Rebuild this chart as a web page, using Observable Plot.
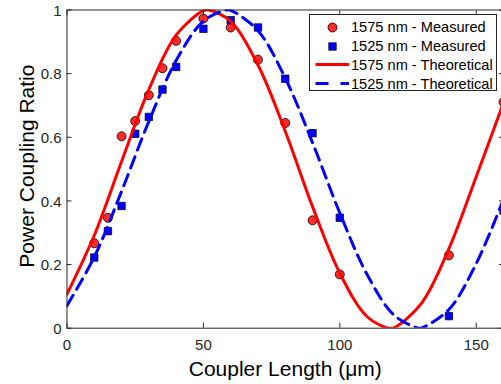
<!DOCTYPE html>
<html><head><meta charset="utf-8">
<script src="https://cdn.jsdelivr.net/npm/d3@7"></script>
<script src="https://cdn.jsdelivr.net/npm/@observablehq/plot@0.6"></script>
<style>
html,body{margin:0;padding:0;overflow:hidden;background:#fff;}
#wrap{position:relative;width:501px;height:384px;overflow:hidden;}
#wrap svg{display:block;}
#legend{position:absolute;left:309px;top:14px;width:188px;height:77px;border:1px solid #262626;background:#fff;font-family:"Liberation Sans",Arial,sans-serif;font-size:14.6px;color:#000;box-sizing:border-box;}
.row{position:absolute;left:0;height:19px;display:flex;align-items:center;white-space:nowrap;}
.row svg{flex:none;}
.row span{margin-left:2px;}
</style></head><body><div id="wrap"><div id="legend"></div></div>
<script>
const xTicks = [0, 50, 100, 150];
const yTicks = [0, 0.2, 0.4, 0.6, 0.8, 1];
const yTickLabels = ["0", "0.2", "0.4", "0.6", "0.8", "1"];
const xLabel = "Coupler Length (\u03bcm)";
const yLabel = "Power Coupling Ratio";
const seriesNames = ["1575 nm - Measured", "1525 nm - Measured", "1575 nm - Theoretical", "1525 nm - Theoretical"];

const measuredLength = [10, 15, 20, 25, 30, 35, 40, 50, 60, 70, 80, 90, 100, 140, 160];
const measured1575 = [0.267, 0.347, 0.603, 0.651, 0.732, 0.817, 0.903, 0.973, 0.945, 0.844, 0.645, 0.339, 0.169, 0.229, 0.711];
const measured1525 = [0.222, 0.305, 0.384, 0.611, 0.664, 0.750, 0.821, 0.941, 0.968, 0.945, 0.784, 0.613, 0.347, 0.038, 0.370];

const theoryLength1575 = [0, 10, 20, 30, 40, 50, 52, 60, 70, 80, 90, 100, 110, 118, 120, 130, 140, 150, 160];
const theory1575 = [0.107, 0.292, 0.524, 0.750, 0.921, 0.998, 1.000, 0.964, 0.827, 0.619, 0.382, 0.173, 0.036, 0.000, 0.002, 0.079, 0.250, 0.476, 0.708];
const theoryLength1525 = [0, 10, 20, 30, 40, 50, 58.4, 60, 70, 80, 90, 100, 110, 120, 129, 130, 140, 150, 160];
const theory1525 = [0.071, 0.224, 0.430, 0.650, 0.841, 0.965, 1.000, 0.999, 0.935, 0.786, 0.583, 0.362, 0.169, 0.040, 0.000, 0.0005, 0.059, 0.203, 0.405];

const colors = {red: "#ff0000", redFill: "#ff2a2a", blue: "#0000ff", axis: "#262626"};

const m1575 = measuredLength.map((x, i) => ({x, y: measured1575[i]}));
const m1525 = measuredLength.map((x, i) => ({x, y: measured1525[i]}));
const t1575 = theoryLength1575.map((x, i) => ({x, y: theory1575[i]}));
const t1525 = theoryLength1525.map((x, i) => ({x, y: theory1525[i]}));

const font = "Liberation Sans, Arial, Helvetica, sans-serif";
const chart = Plot.plot({
  width: 501,
  height: 384,
  marginLeft: 66.5,
  marginRight: -2,
  marginTop: 9.5,
  marginBottom: 56.3,
  x: {domain: [0, 160], range: [66.5, 503]},
  y: {domain: [0, 1], range: [327.7, 9.5]},
  style: {fontFamily: font, background: "white", overflow: "hidden", color: colors.axis},
  marks: [
    Plot.dot(m1575, {x: "x", y: "y", r: 4.5, fill: colors.redFill, stroke: "#000", strokeWidth: 0.8}),
    Plot.dot(m1525, {x: "x", y: "y", r: 4.2, symbol: "square", fill: colors.blue, stroke: "#000", strokeWidth: 0.7}),
    Plot.line(t1575, {x: "x", y: "y", stroke: colors.red, strokeWidth: 3, curve: "catmull-rom", clip: true}),
    Plot.line(t1525, {x: "x", y: "y", stroke: colors.blue, strokeWidth: 3, strokeDasharray: "12,7", curve: "catmull-rom", clip: true}),
    Plot.frame({stroke: colors.axis, strokeWidth: 1}),
    Plot.axisX({anchor: "bottom", ticks: xTicks, tickSize: -5, tickFormat: () => "", label: null, stroke: colors.axis}),
    Plot.axisX({anchor: "top", ticks: xTicks, tickSize: -5, tickFormat: () => "", label: null, stroke: colors.axis}),
    Plot.axisY({anchor: "left", ticks: yTicks, tickSize: -5, tickFormat: () => "", label: null, stroke: colors.axis}),
    Plot.axisY({anchor: "right", ticks: yTicks, tickSize: -5, tickFormat: () => "", label: null, stroke: colors.axis}),
    Plot.text(xTicks, {x: d => d, text: d => String(d), frameAnchor: "bottom", lineAnchor: "middle", textAnchor: "middle", dy: 16.5, fontSize: 15, fill: colors.axis}),
    Plot.text(yTicks, {y: d => d, text: (d, i) => yTickLabels[i], frameAnchor: "left", lineAnchor: "middle", dx: -5.5, dy: 1, textAnchor: "end", fontSize: 15, fill: colors.axis}),
    Plot.text([xLabel], {text: d => d, frameAnchor: "bottom", lineAnchor: "middle", textAnchor: "middle", dy: 40.6, fontSize: 21, fill: "#000"}),
    Plot.text([yLabel], {text: d => d, frameAnchor: "left", lineAnchor: "middle", textAnchor: "middle", rotate: -90, dx: -39.7, dy: -3, fontSize: 21, fill: "#000"})
  ]
});
document.getElementById("wrap").insertBefore(chart, document.getElementById("legend"));

// legend
const legend = document.getElementById("legend");
const rowTops = [2.5, 21.5, 40, 59];
const swatches = [
  `<circle cx="22.5" cy="9.5" r="4.5" fill="${colors.redFill}" stroke="#000" stroke-width="0.8"/>`,
  `<rect x="18.8" y="5.8" width="7.4" height="7.4" fill="${colors.blue}" stroke="#000" stroke-width="0.7"/>`,
  `<line x1="5.5" x2="39" y1="9.5" y2="9.5" stroke="${colors.red}" stroke-width="3"/>`,
  `<line x1="5.5" x2="39" y1="9.5" y2="9.5" stroke="${colors.blue}" stroke-width="3" stroke-dasharray="13,12"/>`
];
seriesNames.forEach((name, i) => {
  const row = document.createElement("div");
  row.className = "row";
  row.style.top = rowTops[i] + "px";
  row.innerHTML = `<svg width="39" height="19">${swatches[i]}</svg><span>${name}</span>`;
  legend.appendChild(row);
});
</script>
</body></html>
